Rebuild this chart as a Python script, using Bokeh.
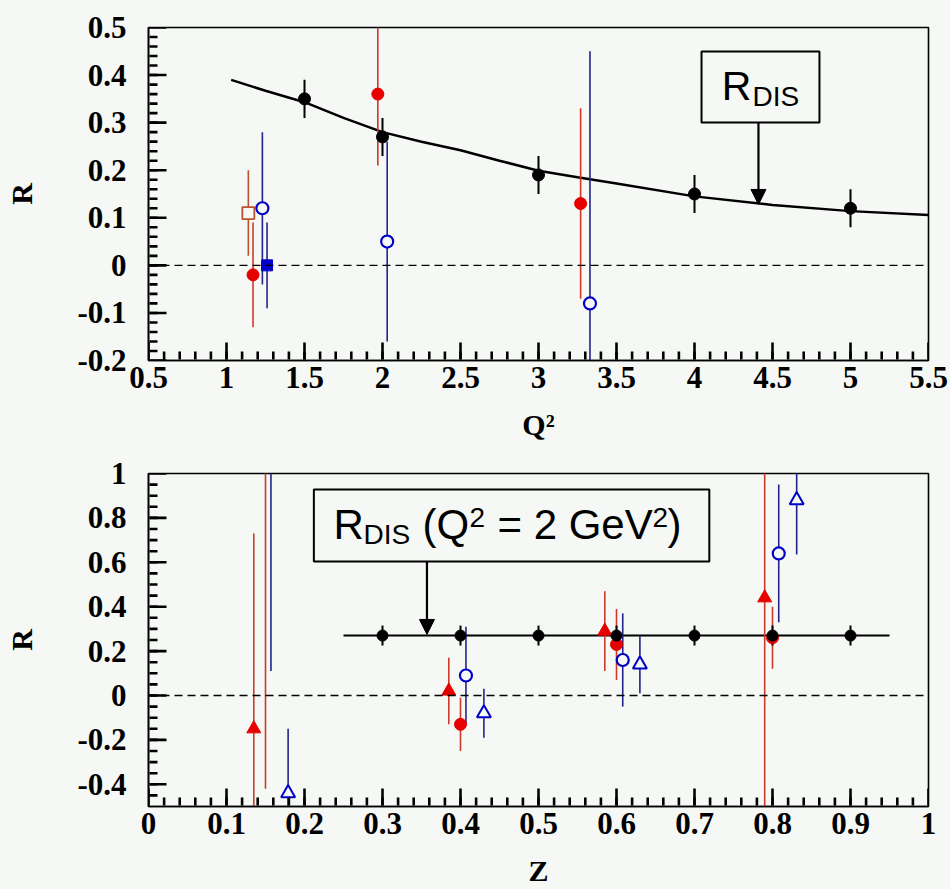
import numpy as np
from bokeh.plotting import figure
from bokeh.layouts import column
from bokeh.models import FixedTicker, Span, Label, BoxAnnotation, Arrow, NormalHead, Range1d
from bokeh.embed import file_html
from bokeh.resources import INLINE

BG = "#f5f8f5"
RED = "#e60000"
RED_BAR = "#cc3a2a"
SQ_RED = "#b8532e"
BLUE = "#0000c8"
BLUE_BAR = "#23238c"

# ---------------- Top panel data: R vs Q^2 ----------------
q2_dis = [1.5, 2.0, 3.0, 4.0, 5.0]
r_dis = [0.35, 0.27, 0.19, 0.15, 0.12]
r_dis_err = [0.04, 0.04, 0.04, 0.04, 0.04]

curve_q2 = [1.03, 1.25, 1.5, 1.75, 2.0, 2.25, 2.5, 2.75, 3.0, 3.25, 3.5, 4.0, 4.5, 5.0, 5.5]
curve_r = [0.39, 0.367, 0.343, 0.31, 0.28, 0.26, 0.242, 0.22, 0.199, 0.185, 0.172, 0.145, 0.127, 0.114, 0.106]

q2_red_circ = [1.17, 1.97, 3.27]
r_red_circ = [-0.02, 0.36, 0.13]
e_red_circ = [0.11, 0.15, 0.20]

q2_red_sq = [1.14]
r_red_sq = [0.11]
e_red_sq = [0.09]

q2_blue_ocirc = [1.23, 2.03, 3.33]
r_blue_ocirc = [0.12, 0.05, -0.08]
e_blue_ocirc = [0.16, 0.21, 0.53]

q2_blue_sq = [1.26]
r_blue_sq = [0.0]
e_blue_sq = [0.09]

top_x_ticks = [0.5, 1.0, 1.5, 2.0, 2.5, 3.0, 3.5, 4.0, 4.5, 5.0, 5.5]
top_x_labels = ["0.5", "1", "1.5", "2", "2.5", "3", "3.5", "4", "4.5", "5", "5.5"]
top_y_ticks = [-0.2, -0.1, 0.0, 0.1, 0.2, 0.3, 0.4, 0.5]
top_y_labels = ["-0.2", "-0.1", "0", "0.1", "0.2", "0.3", "0.4", "0.5"]

# ---------------- Bottom panel data: R vs z ----------------
z_dis_line = [0.25, 0.95]
r_dis_line = [0.27, 0.27]
z_dis = [0.3, 0.4, 0.5, 0.6, 0.7, 0.8, 0.9]
rz_dis = [0.27, 0.27, 0.27, 0.27, 0.27, 0.27, 0.27]
ez_dis = [0.045, 0.045, 0.045, 0.045, 0.045, 0.045, 0.045]

z_red_tri = [0.135, 0.385, 0.585, 0.79]
r_red_tri = [-0.15, 0.02, 0.29, 0.44]
e_red_tri = [0.88, 0.15, 0.18, 1.6]

z_red_circ = [0.40, 0.60, 0.80]
r_red_circ_z = [-0.13, 0.23, 0.26]
e_red_circ_z = [0.12, 0.16, 0.14]

z_red_off = [0.15]
lo_red_off = [-0.42]
hi_red_off = [1.5]

z_blue_ocirc = [0.407, 0.608, 0.808]
r_blue_ocirc_z = [0.09, 0.16, 0.64]
e_blue_ocirc_z = [0.22, 0.21, 0.31]

z_blue_off = [0.157]
lo_blue_off = [0.11]
hi_blue_off = [1.5]

z_blue_otri = [0.179, 0.43, 0.63, 0.831]
r_blue_otri = [-0.44, -0.08, 0.14, 0.88]
e_blue_otri = [0.29, 0.11, 0.13, 0.245]

bot_x_ticks = [0.0, 0.1, 0.2, 0.3, 0.4, 0.5, 0.6, 0.7, 0.8, 0.9, 1.0]
bot_x_labels = ["0", "0.1", "0.2", "0.3", "0.4", "0.5", "0.6", "0.7", "0.8", "0.9", "1"]
bot_y_ticks = [-0.4, -0.2, 0.0, 0.2, 0.4, 0.6, 0.8, 1.0]
bot_y_labels = ["-0.4", "-0.2", "0", "0.2", "0.4", "0.6", "0.8", "1"]

TICK_FONT = "Liberation Serif"
SANS = "Liberation Sans"
FW, FH = 780, 333


def style(p, xt, xl, yt, yl, xlabel):
    p.background_fill_color = BG
    p.border_fill_color = BG
    p.outline_line_color = "black"
    p.outline_line_width = 1.6
    p.xgrid.visible = False
    p.ygrid.visible = False
    p.xaxis.ticker = FixedTicker(ticks=xt, minor_ticks=[])
    p.yaxis.ticker = FixedTicker(ticks=yt, minor_ticks=[])
    p.xaxis.major_label_overrides = {t: l for t, l in zip(xt, xl)}
    p.yaxis.major_label_overrides = {t: l for t, l in zip(yt, yl)}
    for ax in (p.xaxis[0], p.yaxis[0]):
        ax.axis_line_color = "black"
        ax.axis_line_width = 1.6
        ax.major_tick_in = 0
        ax.major_tick_out = 0
        ax.minor_tick_in = 0
        ax.minor_tick_out = 0
        ax.major_label_text_font = TICK_FONT
        ax.major_label_text_font_style = "bold"
        ax.major_label_text_font_size = "31px"
        ax.major_label_text_color = "black"
        ax.axis_label_text_font = TICK_FONT
        ax.axis_label_text_font_style = "bold"
        ax.axis_label_text_font_size = "30px"
        ax.axis_label_text_color = "black"
    p.xaxis.axis_label = xlabel
    p.yaxis.axis_label = "R"
    p.xaxis.major_label_standoff = 6
    p.yaxis.major_label_standoff = 22
    p.xaxis.axis_label_standoff = 17
    p.yaxis.axis_label_standoff = 36
    p.add_layout(Span(location=0, dimension="width", line_color="black",
                      line_width=1.4, line_dash="8 5"))


def add_ticks(p, xr, yr, xt, xminor, yt, yminor):
    # inward tick marks along the bottom and left edges, as explicit segments
    x0, x1 = xr
    y0, y1 = yr
    py = (y1 - y0) / FH
    px = (x1 - x0) / FW
    sx0 = list(xt) + list(xminor)
    sy1 = [y0 + 18 * py] * len(xt) + [y0 + 9 * py] * len(xminor)
    p.segment(x0=sx0, y0=[y0 + 1 * py] * len(sx0), x1=sx0, y1=sy1,
              line_color="black", line_width=2.6)
    sy0 = list(yt) + list(yminor)
    sx1 = [x0 + 18 * px] * len(yt) + [x0 + 9 * px] * len(yminor)
    p.segment(x0=[x0 + 1 * px] * len(sy0), y0=sy0, x1=sx1, y1=sy0,
              line_color="black", line_width=2.6)


def errbar(p, x, y, e, color, width):
    y0 = [a - b for a, b in zip(y, e)]
    y1 = [a + b for a, b in zip(y, e)]
    p.segment(x0=x, y0=y0, x1=x, y1=y1, line_color=color, line_width=width)


# ---------------- Top figure ----------------
p1 = figure(width=950, height=445, output_backend="svg", toolbar_location=None,
            x_range=Range1d(0.5, 5.5), y_range=Range1d(-0.2, 0.5),
            frame_width=FW, frame_height=FH,
            min_border_left=148, min_border_right=22, min_border_top=27, min_border_bottom=85)
top_x_minor = [float(v) for v in np.round(np.arange(0.6, 5.45, 0.1), 3)]
top_y_minor = [float(v) for v in np.round(np.arange(-0.18, 0.49, 0.02), 3)]
style(p1, top_x_ticks, top_x_labels, top_y_ticks, top_y_labels, "Q²")

p1.line(curve_q2, curve_r, line_color="black", line_width=2.5)
errbar(p1, q2_red_sq, r_red_sq, e_red_sq, SQ_RED, 1.6)
errbar(p1, q2_red_circ, r_red_circ, e_red_circ, RED_BAR, 1.6)
errbar(p1, q2_blue_ocirc, r_blue_ocirc, e_blue_ocirc, BLUE_BAR, 1.6)
errbar(p1, q2_blue_sq, r_blue_sq, e_blue_sq, BLUE_BAR, 1.6)
errbar(p1, q2_dis, r_dis, r_dis_err, "black", 2.0)
p1.scatter(q2_red_sq, r_red_sq, marker="square", size=12, fill_color=BG,
           line_color=SQ_RED, line_width=1.8)
p1.scatter(q2_red_circ, r_red_circ, marker="circle", size=12, fill_color=RED, line_color=RED)
p1.scatter(q2_blue_ocirc, r_blue_ocirc, marker="circle", size=12, fill_color=BG,
           line_color=BLUE, line_width=2.2)
p1.scatter(q2_blue_sq, r_blue_sq, marker="square", size=11, fill_color=BLUE, line_color=BLUE)
p1.scatter(q2_dis, r_dis, marker="circle", size=12, fill_color="black", line_color="black")
add_ticks(p1, (0.5, 5.5), (-0.2, 0.5), top_x_ticks, top_x_minor, top_y_ticks, top_y_minor)

p1.add_layout(BoxAnnotation(left=4.045, right=4.801, bottom=0.3004, top=0.4496,
                            fill_color=BG, fill_alpha=1.0, line_color="black",
                            line_alpha=1.0, line_width=2))
p1.add_layout(Label(x=4.175, y=0.3764, text="R", text_font=SANS, text_font_size="41px",
                    text_baseline="alphabetic", text_align="left", text_color="black"))
p1.add_layout(Label(x=4.372, y=0.3554, text="DIS", text_font=SANS, text_font_size="28px",
                    text_baseline="alphabetic", text_align="left", text_color="black"))
p1.add_layout(Arrow(end=NormalHead(size=15, fill_color="black", line_color="black"),
                    x_start=4.41, y_start=0.3004, x_end=4.41, y_end=0.128,
                    line_color="black", line_width=2.2))

# ---------------- Bottom figure ----------------
p2 = figure(width=950, height=444, output_backend="svg", toolbar_location=None,
            x_range=Range1d(0.0, 1.0), y_range=Range1d(-0.5, 1.0),
            frame_width=FW, frame_height=FH,
            min_border_left=148, min_border_right=22, min_border_top=28, min_border_bottom=83)
bot_x_minor = [float(v) for v in np.round(np.arange(0.02, 0.99, 0.02), 3)]
bot_y_minor = [float(v) for v in np.round(np.arange(-0.45, 0.99, 0.05), 3)]
style(p2, bot_x_ticks, bot_x_labels, bot_y_ticks, bot_y_labels, "Z")

p2.line(z_dis_line, r_dis_line, line_color="black", line_width=2)
p2.segment(x0=z_red_off, y0=lo_red_off, x1=z_red_off, y1=hi_red_off, line_color=RED_BAR, line_width=1.6)
p2.segment(x0=z_blue_off, y0=lo_blue_off, x1=z_blue_off, y1=hi_blue_off, line_color=BLUE_BAR, line_width=1.6)
errbar(p2, z_red_tri, r_red_tri, e_red_tri, RED_BAR, 1.6)
errbar(p2, z_red_circ, r_red_circ_z, e_red_circ_z, RED_BAR, 1.6)
errbar(p2, z_blue_ocirc, r_blue_ocirc_z, e_blue_ocirc_z, BLUE_BAR, 1.6)
errbar(p2, z_blue_otri, r_blue_otri, e_blue_otri, BLUE_BAR, 1.6)
errbar(p2, z_dis, rz_dis, ez_dis, "black", 2.0)
p2.scatter(z_red_tri, r_red_tri, marker="triangle", size=14, fill_color=RED, line_color=RED)
p2.scatter(z_red_circ, r_red_circ_z, marker="circle", size=12, fill_color=RED, line_color=RED)
p2.scatter(z_blue_ocirc, r_blue_ocirc_z, marker="circle", size=12, fill_color=BG,
           line_color=BLUE, line_width=2.2)
p2.scatter(z_blue_otri, r_blue_otri, marker="triangle", size=14, fill_color=BG,
           line_color=BLUE, line_width=2.0)
p2.scatter(z_dis, rz_dis, marker="circle", size=11, fill_color="black", line_color="black")
add_ticks(p2, (0.0, 1.0), (-0.5, 1.0), bot_x_ticks, bot_x_minor, bot_y_ticks, bot_y_minor)

p2.add_layout(BoxAnnotation(left=0.212, right=0.719, bottom=0.604, top=0.928,
                            fill_color=BG, fill_alpha=1.0, line_color="black",
                            line_alpha=1.0, line_width=2))
main_y = 0.770
sub_y = 0.725
sup_y = 0.802
for x, y, t, fs in [(0.2372, main_y, "R", "42px"),
                    (0.2756, sub_y, "DIS", "28px"),
                    (0.3513, main_y, "(Q", "42px"),
                    (0.4115, sup_y, "2", "28px"),
                    (0.4474, main_y, "= 2 GeV", "42px"),
                    (0.6462, sup_y, "2", "28px"),
                    (0.6654, main_y, ")", "42px")]:
    p2.add_layout(Label(x=x, y=y, text=t, text_font=SANS, text_font_size=fs,
                        text_baseline="alphabetic", text_align="left", text_color="black"))
p2.add_layout(Arrow(end=NormalHead(size=15, fill_color="black", line_color="black"),
                    x_start=0.357, y_start=0.604, x_end=0.357, y_end=0.275,
                    line_color="black", line_width=2.2))

layout = column(p1, p2, spacing=0)
layout.styles = {"background-color": BG}

open("out.html", "w").write(file_html(layout, INLINE))
